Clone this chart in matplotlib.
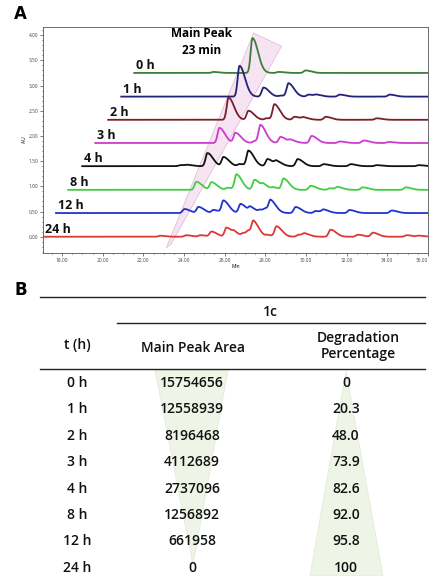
import numpy as np
import matplotlib.pyplot as plt
from matplotlib.patches import Polygon

plt.rcParams['font.family'] = ['Open Sans', 'DejaVu Sans']

# chromatogram traces (minutes, AU)
labels = ['0 h', '1 h', '2 h', '3 h', '4 h', '8 h', '12 h', '24 h']
colors = ['#3c7d3c', '#22227a', '#7a1e2c', '#cc3ccc', '#111111', '#44cc44', '#2233cc', '#dd3838']
baselines = [3.25, 2.78, 2.32, 1.86, 1.40, 0.93, 0.47, 0.0]
starts = [21.55, 20.91, 20.27, 19.63, 18.99, 18.30, 17.70, 17.06]

peak_t = [
    [25.45, 27.37, 28.65, 29.98],
    [26.73, 27.91, 28.75, 29.14, 30.13, 30.52, 31.66, 34.12],
    [26.19, 27.17, 28.06, 28.45, 29.44, 29.88, 30.97, 33.48],
    [25.74, 26.53, 27.47, 27.76, 28.75, 29.24, 30.28, 31.66, 32.84, 34.07],
    [23.82, 24.16, 25.15, 25.94, 26.73, 27.17, 28.11, 28.55, 29.59, 30.87, 32.20, 33.48, 35.55],
    [24.61, 25.35, 26.14, 26.58, 27.47, 27.91, 28.40, 28.90, 30.23, 31.17, 31.56, 32.79, 34.91],
    [24.02, 24.71, 25.45, 25.94, 26.78, 27.27, 27.76, 28.01, 28.26, 29.49, 30.48, 30.87, 32.15, 34.22],
    [22.83, 24.11, 24.80, 25.35, 26.09, 26.48, 26.93, 27.17, 27.42, 28.11, 28.55, 29.64, 29.93,
     31.21, 32.55, 33.29, 34.96, 35.55],
]
peak_h = [
    [0.02, 0.69, 0.02, 0.05],
    [0.61, 0.18, 0.02, 0.26, 0.04, 0.03, 0.04, 0.04],
    [0.44, 0.18, 0.03, 0.30, 0.06, 0.04, 0.06, 0.03],
    [0.30, 0.20, 0.04, 0.34, 0.12, 0.05, 0.14, 0.03, 0.05, 0.02],
    [0.02, 0.02, 0.26, 0.18, 0.04, 0.30, 0.14, 0.08, 0.14, 0.04, 0.04, 0.02, 0.02],
    [0.16, 0.15, 0.04, 0.30, 0.20, 0.08, 0.04, 0.22, 0.08, 0.03, 0.05, 0.05, 0.05],
    [0.08, 0.12, 0.06, 0.24, 0.18, 0.10, 0.05, 0.06, 0.22, 0.12, 0.04, 0.06, 0.06, 0.05],
    [0.02, 0.03, 0.03, 0.10, 0.18, 0.06, 0.06, 0.08, 0.26, 0.03, 0.20, 0.04, 0.05, 0.14,
     0.04, 0.08, 0.03, 0.02],
]

# main peak band (minutes, AU)
band_t = [27.42, 28.80, 23.37, 23.13]
band_au = [4.04, 3.78, -0.14, -0.22]

# table
times = ['0 h', '1 h', '2 h', '3 h', '4 h', '8 h', '12 h', '24 h']
areas = ['15754656', '12558939', '8196468', '4112689', '2737096', '1256892', '661958', '0']
degradation = ['0', '20.3', '48.0', '73.9', '82.6', '92.0', '95.8', '100']

fig = plt.figure(figsize=(4.3, 5.76), dpi=100)

# ---- panel A ----
ax = fig.add_axes([0.1, 0.561, 0.895, 0.392])
ax.add_patch(Polygon(list(zip(band_t, band_au)), closed=True, facecolor='#f6e4f3',
                     edgecolor='#e2bddb', lw=0.6, zorder=1))

def peak(t, t0, h, sl=0.09, sr=0.27):
    s = np.where(t < t0, sl, sr)
    return h * np.exp(-0.5 * ((t - t0) / s) ** 2)

for i in range(len(labels)):
    t = np.linspace(starts[i], 36.0, 1500)
    y = np.full_like(t, baselines[i])
    for t0, h in zip(peak_t[i], peak_h[i]):
        y += peak(t, t0, h)
    ax.plot(t, y, color=colors[i], lw=1.3, zorder=3)
    ax.text(starts[i] + 0.1, baselines[i] + 0.02, labels[i], fontsize=9, fontweight='bold',
            ha='left', va='bottom', color='#111111', zorder=4)

ax.text(24.85, 3.86, 'Main Peak\n23 min', fontsize=8.5, fontweight='bold', ha='center',
        va='center', linespacing=1.35)

xt = np.arange(18, 37, 2)
ax.set_xlim(17.06, 36.0)
ax.set_ylim(-0.32, 4.16)
ax.set_xticks(xt)
ax.set_xticklabels(['%.2f' % v for v in xt])
ax.get_xticklabels()[-1].set_horizontalalignment('right')
ax.set_xticks(np.arange(17.5, 36.1, 0.5), minor=True)
ax.set_yticks(np.arange(0, 4.01, 0.5))
ax.set_yticklabels(['%.2f' % v for v in np.arange(0, 4.01, 0.5)])
ax.set_yticks(np.arange(-0.3, 4.15, 0.1), minor=True)
ax.tick_params(labelsize=3.5, length=2, width=0.5, pad=1.5, colors='#444444')
ax.tick_params(which='minor', length=1, width=0.4)
ax.set_xlabel('Min', fontsize=3.5, labelpad=1)
ax.set_ylabel('AU', fontsize=3.5, labelpad=1)
for sp in ax.spines.values():
    sp.set_linewidth(0.6)
    sp.set_color('#555555')

fig.text(0.033, 0.975, 'A', fontsize=12, fontweight='bold', family='DejaVu Sans',
         ha='left', va='center')
fig.text(0.033, 0.497, 'B', fontsize=12, fontweight='bold', family='DejaVu Sans',
         ha='left', va='center')

# ---- panel B (table) ----
tb = fig.add_axes([0, 0, 1, 0.5])
tb.set_xlim(0, 430)
tb.set_ylim(576, 288)
tb.axis('off')

col_t, col_a, col_d = 77, 192, 346
row0, row_step = 383, 26.4
rows_y = [row0 + i * row_step for i in range(len(times))]

tb.add_patch(Polygon([(155, 370), (228, 370), (193, 565)], closed=True,
                     facecolor='#eef5e6', edgecolor='#dfe9d6', lw=0.5, zorder=1))
tb.add_patch(Polygon([(346, 371), (310, 576), (383, 576)], closed=True,
                     facecolor='#eef5e6', edgecolor='#dfe9d6', lw=0.5, zorder=1))

tb.plot([40, 425], [297, 297], color='#222222', lw=1.0)
tb.plot([117, 425], [323, 323], color='#222222', lw=1.0)
tb.plot([40, 425], [369, 369], color='#222222', lw=1.0)

hkw = dict(fontsize=10, fontweight='semibold', ha='center', va='center', color='#111111')
tb.text(270, 312, '1c', **hkw)
tb.text(col_t, 345, 't (h)', **hkw)
tb.text(col_a + 1, 348, 'Main Peak Area', **hkw)
tb.text(358, 346, 'Degradation\nPercentage', linespacing=1.25, **hkw)

for i in range(len(times)):
    tb.text(col_t, rows_y[i], times[i], **hkw)
    tb.text(col_a, rows_y[i], areas[i], **hkw)
    tb.text(col_d, rows_y[i], degradation[i], **hkw)

fig.savefig('out.png', dpi=100)
